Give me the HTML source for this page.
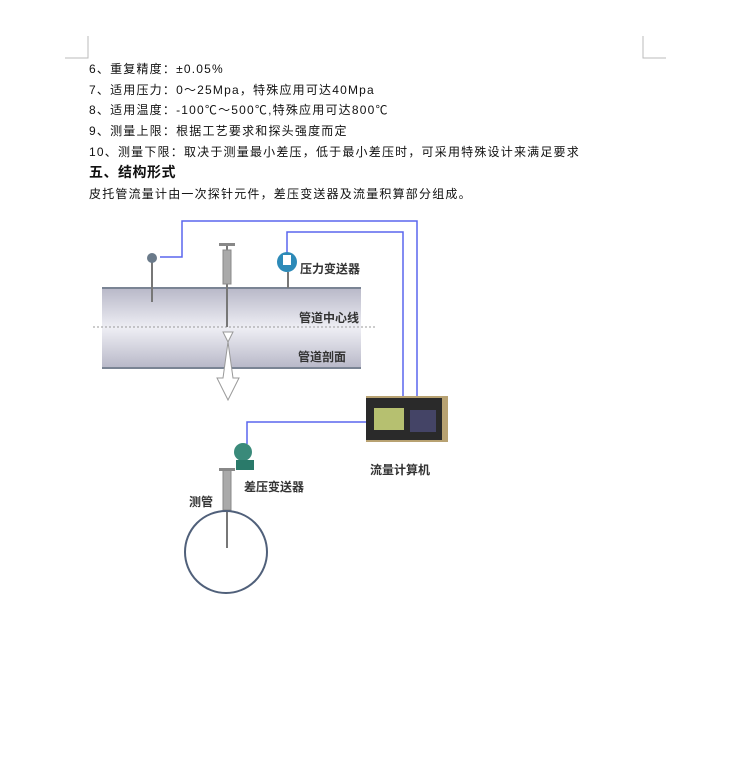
<!DOCTYPE html>
<html><head><meta charset="utf-8"><style>
body{margin:0;width:739px;height:759px;background:#fff;position:relative;overflow:hidden;font-family:"Liberation Sans","Noto Sans CJK SC",sans-serif;}
.t{position:absolute;left:89px;font-size:12px;color:#111;white-space:nowrap;line-height:14px;letter-spacing:1.2px}
.h{font-weight:bold;font-size:14px;left:89px;letter-spacing:0.5px}
.lab{position:absolute;font-size:12px;color:#333;white-space:nowrap;font-weight:bold;line-height:14px}
</style></head><body>
<svg width="739" height="759" style="position:absolute;left:0;top:0">
<path d="M88 36V58H65M643 36V58H666" stroke="#bbb" fill="none"/>
<defs><linearGradient id="g" x1="0" y1="0" x2="0" y2="1"><stop offset="0" stop-color="#b8b8c8"/><stop offset="0.5" stop-color="#eeeef4"/><stop offset="1" stop-color="#b8b8c8"/></linearGradient></defs>
<rect x="102" y="288" width="259" height="80" fill="url(#g)"/>
<line x1="102" y1="288" x2="361" y2="288" stroke="#7a8494" stroke-width="2"/>
<line x1="102" y1="368" x2="361" y2="368" stroke="#7a8494" stroke-width="2"/>
<line x1="93" y1="327" x2="377" y2="327" stroke="#999" stroke-dasharray="2,2"/>
<g stroke="#5a66ee" stroke-width="1.5" fill="none">
<path d="M160 257H182V221H417V396"/>
<path d="M287 253V232H403V396"/>
<path d="M366 422H247V444"/>
</g>
<line x1="152" y1="262" x2="152" y2="302" stroke="#777" stroke-width="2"/>
<circle cx="152" cy="258" r="5" fill="#6a7a8a"/>
<line x1="227" y1="245" x2="227" y2="327" stroke="#777" stroke-width="2"/>
<rect x="219" y="243" width="16" height="3" fill="#888"/>
<rect x="223" y="250" width="8" height="34" fill="#aaa" stroke="#888"/>
<path d="M223 332L228 342 223 378H217L228 400 239 378H233L228 342 233 332Z" fill="#fff" stroke="#999"/>
<line x1="288" y1="272" x2="288" y2="288" stroke="#777" stroke-width="2"/>
<circle cx="287" cy="262" r="10" fill="#2d8ab8"/>
<rect x="283" y="255" width="8" height="10" fill="#fff"/>
<rect x="366" y="396" width="82" height="46" fill="#b8a272"/>
<rect x="366" y="398" width="76" height="42" fill="#2a2a2a"/>
<rect x="374" y="408" width="30" height="22" fill="#b6c070"/>
<rect x="410" y="410" width="26" height="22" fill="#446"/>
<line x1="227" y1="470" x2="227" y2="548" stroke="#777" stroke-width="2"/>
<rect x="223" y="470" width="8" height="40" fill="#aaa" stroke="#888"/>
<rect x="219" y="468" width="16" height="3" fill="#888"/>
<circle cx="226" cy="552" r="41" fill="none" stroke="#50607a" stroke-width="2"/>
<circle cx="243" cy="452" r="9" fill="#3a8a7a"/>
<rect x="236" y="460" width="18" height="10" fill="#2a7a6a"/>
</svg>
<div class="t" style="top:62px">6、重复精度：±0.05%</div>
<div class="t" style="top:83px">7、适用压力：0～25Mpa，特殊应用可达40Mpa</div>
<div class="t" style="top:103px">8、适用温度：-100℃～500℃,特殊应用可达800℃</div>
<div class="t" style="top:124px">9、测量上限：根据工艺要求和探头强度而定</div>
<div class="t" style="top:145px">10、测量下限：取决于测量最小差压，低于最小差压时，可采用特殊设计来满足要求</div>
<div class="t h" style="top:165px">五、结构形式</div>
<div class="t" style="top:187px">皮托管流量计由一次探针元件，差压变送器及流量积算部分组成。</div>
<div class="lab" style="left:300px;top:262px">压力变送器</div>
<div class="lab" style="left:299px;top:311px">管道中心线</div>
<div class="lab" style="left:298px;top:350px">管道剖面</div>
<div class="lab" style="left:370px;top:463px">流量计算机</div>
<div class="lab" style="left:244px;top:480px">差压变送器</div>
<div class="lab" style="left:189px;top:495px">测管</div>
</body></html>
